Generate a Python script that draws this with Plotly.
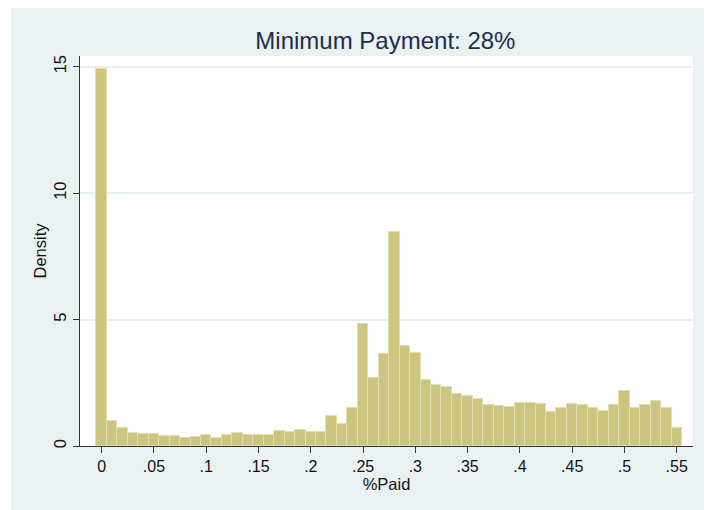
import plotly.graph_objects as go

# Data (bin centres and densities)
bin_centers = [round(i * 0.01, 2) for i in range(56)]
density = [
    14.89, 0.97, 0.71, 0.52, 0.46, 0.49, 0.38, 0.41, 0.32, 0.34,
    0.44, 0.33, 0.42, 0.52, 0.45, 0.44, 0.42, 0.60, 0.54, 0.65,
    0.56, 0.54, 1.19, 0.86, 1.49, 4.81, 2.67, 3.62, 8.48, 3.97,
    3.66, 2.62, 2.43, 2.33, 2.04, 1.96, 1.84, 1.61, 1.60, 1.56,
    1.69, 1.69, 1.65, 1.35, 1.52, 1.67, 1.61, 1.52, 1.38, 1.63,
    2.17, 1.52, 1.63, 1.79, 1.49, 0.71,
]
x_tickvals = [0, 0.05, 0.1, 0.15, 0.2, 0.25, 0.3, 0.35, 0.4, 0.45, 0.5, 0.55]
x_ticktext = ["0", ".05", ".1", ".15", ".2", ".25", ".3", ".35", ".4", ".45", ".5", ".55"]
y_tickvals = [0, 5, 10, 15]
y_ticktext = ["0", "5", "10", "15"]

# The page body has an 8px default margin, so the figure is 8px smaller.
OFF = 8
W, H = 712 - OFF, 510 - OFF
ML, MR, MT, MB = 80 - OFF, 19, 56 - OFF, 64
PW, PH = W - ML - MR, H - MT - MB

font_family = "Liberation Sans, Arial, sans-serif"

fig = go.Figure()
fig.add_trace(go.Bar(
    x=bin_centers,
    y=density,
    width=0.01,
    marker=dict(color="rgb(204,197,128)", line=dict(color="rgb(224,221,174)", width=1)),
    hoverinfo="x+y",
))

def px_x(p):
    # page pixel -> paper x
    return (p - OFF - ML) / PW

def px_y(p):
    # page pixel -> paper y
    return (H - MB - (p - OFF)) / PH

shapes = [
    dict(type="rect", xref="paper", yref="paper", layer="below",
         x0=px_x(11), x1=px_x(760), y0=px_y(560), y1=px_y(8),
         fillcolor="#eaf1f3", line=dict(width=0)),
    dict(type="rect", xref="paper", yref="paper", layer="below",
         x0=0, x1=1, y0=0, y1=1,
         fillcolor="white", line=dict(width=0)),
]

fig.update_layout(
    width=W, height=H,
    margin=dict(l=ML, r=MR, t=MT, b=MB),
    paper_bgcolor="white",
    plot_bgcolor="white",
    shapes=shapes,
    showlegend=False,
    bargap=0,
    font=dict(family=font_family, color="#111111", size=16),
    title=dict(
        text="Minimum Payment: 28%",
        x=(385.4 - OFF) / W, xanchor="center",
        y=1 - (41 - OFF) / H, yanchor="middle", yref="container", xref="container",
        font=dict(size=24, color="#1c2d4a", family=font_family),
    ),
    xaxis=dict(
        range=[(80 - 101.7) / 1045.5, (693 - 101.7) / 1045.5],
        tickvals=x_tickvals, ticktext=x_ticktext,
        ticks="outside", ticklen=6, tickwidth=1, tickcolor="#333333",
        showline=True, linecolor="#333333", linewidth=1,
        showgrid=False, zeroline=False,
        tickfont=dict(size=16),
        title=dict(text="%Paid", font=dict(size=16.5), standoff=0),
    ),
    yaxis=dict(
        range=[0, (446 - 56) / 25.29],
        tickvals=y_tickvals, ticktext=y_ticktext,
        tickangle=-90,
        ticks="outside", ticklen=6, tickwidth=1, tickcolor="#333333",
        showline=True, linecolor="#333333", linewidth=1,
        showgrid=True, gridcolor="#e6eef1", gridwidth=1.5,
        zeroline=False,
        tickfont=dict(size=16.5),
        title=dict(text="Density", font=dict(size=16.5), standoff=0),
    ),
)

fig.write_html("out.html")
